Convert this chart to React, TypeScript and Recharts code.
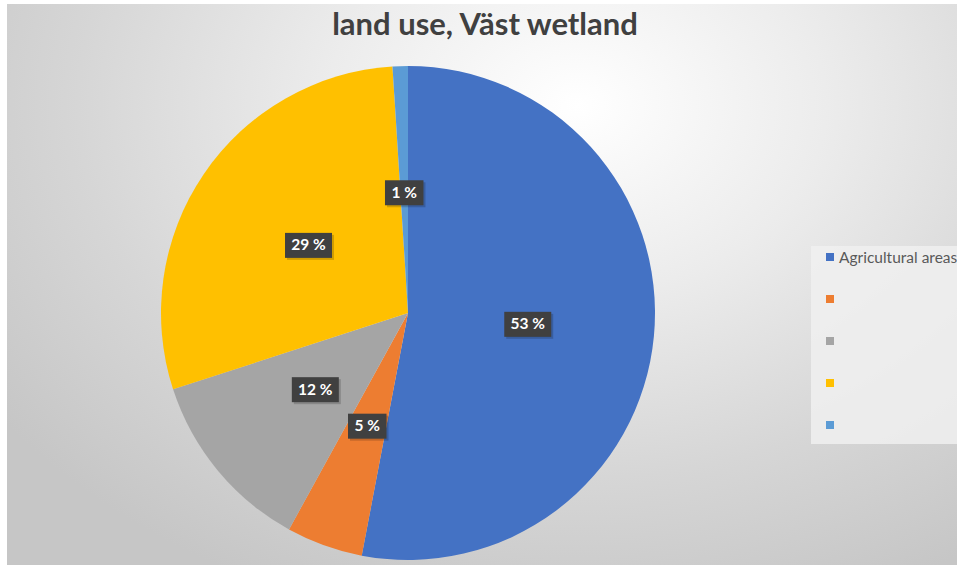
import React from "react";
import { PieChart, Pie, Cell, Legend } from "recharts";

const categories = ["Agricultural areas", "", "", "", ""];
const shares = [53, 5, 12, 29, 1];
const colors = ["#4472C4", "#ED7D31", "#A5A5A5", "#FFC000", "#5B9BD5"];
const title = "land use, Väst wetland";

const data = categories.map((name, i) => ({ name: name || `item${i}`, label: name, value: shares[i], color: colors[i] }));

const RAD = Math.PI / 180;

const renderLabel = (props: any) => {
  const { cx, cy, midAngle, outerRadius, value } = props;
  const r = outerRadius * 0.487;
  const x = cx + r * Math.cos(-midAngle * RAD);
  const y = cy + r * Math.sin(-midAngle * RAD);
  const text = `${value} %`;
  const digits = String(value).length;
  const w = digits * 8.5 + 30;
  const h = 25;
  return (
    <g>
      <rect x={x - w / 2 + 2} y={y - h / 2 + 2} width={w} height={h} fill="rgba(0,0,0,0.18)" />
      <rect x={x - w / 2} y={y - h / 2} width={w} height={h} fill="#404040" />
      <text x={x} y={y + 1} fill="#ffffff" textAnchor="middle" dominantBaseline="middle" fontFamily="Lato, 'Open Sans', sans-serif" fontWeight={700} fontSize={15.5}>
        {text}
      </text>
    </g>
  );
};

const LegendContent = () => (
  <div style={{ position: "relative", width: 146, height: 198, background: "rgba(240,240,240,0.85)", fontFamily: "Lato, 'Open Sans', sans-serif", fontSize: 15.5, color: "#595959" }}>
    {data.map((d, i) => (
      <div key={i} style={{ position: "absolute", left: 15, top: i * 42 - 10, display: "flex", alignItems: "center", height: 42 }}>
        <span style={{ display: "inline-block", width: 8, height: 8, background: d.color, marginRight: 5 }} />
        <span style={{ whiteSpace: "nowrap" }}>{d.label}</span>
      </div>
    ))}
  </div>
);

export default function App() {
  return (
    <div style={{ position: "absolute", left: 7, top: 4, width: 950, height: 561, background: "radial-gradient(ellipse 75% 95% at 60% 18%, #ffffff 0%, #ececec 35%, #d6d6d6 70%, #c6c6c6 100%)", overflow: "hidden" }}>
      <div style={{ position: "absolute", left: 0, width: 956, top: 0, textAlign: "center", fontFamily: "Lato, 'Open Sans', sans-serif", fontWeight: 700, fontSize: 31, color: "#404040" }}>
        {title}
      </div>
      <PieChart width={950} height={561} margin={{ top: 0, right: 0, bottom: 0, left: 0 }} style={{ position: "absolute", left: 0, top: 0 }}>
        <Pie
          data={data}
          dataKey="value"
          nameKey="name"
          cx={401}
          cy={309}
          outerRadius={247}
          startAngle={90}
          endAngle={-270}
          stroke="none"
          label={renderLabel}
          labelLine={false}
          isAnimationActive={false}
        >
          {data.map((d, i) => (
            <Cell key={i} fill={d.color} />
          ))}
        </Pie>
        <Legend
          layout="vertical"
          align="right"
          verticalAlign="top"
          content={<LegendContent />}
          wrapperStyle={{ left: 804, top: 242, width: 146 }}
        />
      </PieChart>
    </div>
  );
}
